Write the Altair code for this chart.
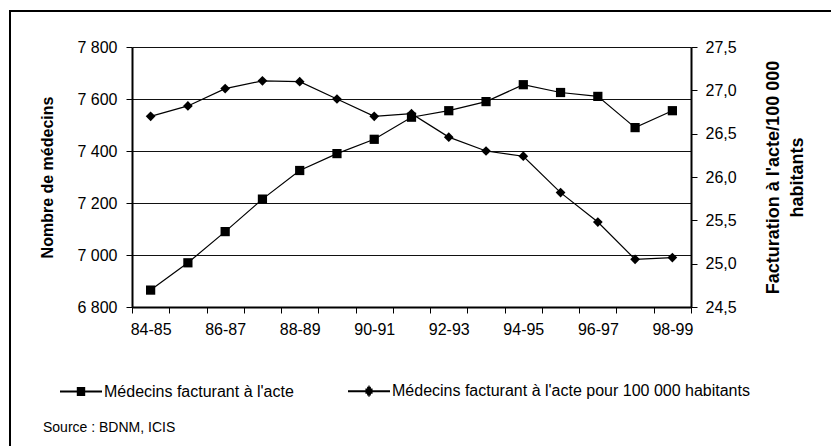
import altair as alt
import pandas as pd

periodes = ["84-85", "85-86", "86-87", "87-88", "88-89", "89-90", "90-91", "91-92",
            "92-93", "93-94", "94-95", "95-96", "96-97", "97-98", "98-99"]
medecins = [6865, 6970, 7090, 7215, 7325, 7390, 7445, 7530, 7555, 7590, 7655, 7625, 7610, 7490, 7555]
par_100k = [26.70, 26.82, 27.02, 27.11, 27.10, 26.90, 26.70, 26.73, 26.46, 26.30, 26.24, 25.82, 25.48, 25.05, 25.07]
series = ["Médecins facturant à l'acte", "Médecins facturant à l'acte pour 100 000 habitants"]
left_ticks = [6800, 7000, 7200, 7400, 7600, 7800]
right_ticks = [24.5, 25.0, 25.5, 26.0, 26.5, 27.0, 27.5]
source_text = "Source : BDNM, ICIS"

df = pd.DataFrame({"periode": periodes, "medecins": medecins, "par_100k": par_100k})
legend_df = pd.DataFrame({"serie": series})
one = pd.DataFrame({"k": [0]})

FONT = "Liberation Sans"
W, H = 559, 260
PL, PT = 132, 47
PR, PB = 831 - PL - W, 446 - PT - H

x_enc = alt.X(
    "periode:N", sort=periodes, title=None,
    scale=alt.Scale(type="band", paddingInner=0, paddingOuter=0),
    axis=alt.Axis(
        tickBand="extent", labelAngle=0, labelOverlap=False,
        labelExpr="parseInt(substring(datum.value,0,2)) % 2 == 0 ? datum.value : ''",
        labelFontSize=16, labelFont=FONT, labelColor="black", labelPadding=8,
        tickSize=6, tickColor="black", tickWidth=1,
        domainColor="black", domainWidth=2, grid=False,
    ),
)

y_left = alt.Y(
    "medecins:Q",
    scale=alt.Scale(domain=[6800, 7800], nice=False, zero=False),
    axis=alt.Axis(
        values=left_ticks,
        labelExpr="replace(format(datum.value, ','), ',', ' ')",
        labelFontSize=16, labelFont=FONT, labelColor="black", labelPadding=9,
        tickSize=6, tickColor="black", tickWidth=1,
        domainColor="black", domainWidth=2,
        grid=True, gridColor="#111111", gridWidth=1,
        title="Nombre de médecins", titleFont=FONT, titleFontSize=16, titleFontWeight="bold",
        titleColor="black", titleAngle=270, titleX=-85, titleY=H / 2,
        titleAlign="center", titleBaseline="middle",
    ),
)

y_right = alt.Y(
    "par_100k:Q",
    scale=alt.Scale(domain=[24.5, 27.5], nice=False, zero=False),
    axis=alt.Axis(
        orient="right", values=right_ticks,
        labelExpr="replace(format(datum.value, '.1f'), '.', ',')",
        labelFontSize=16, labelFont=FONT, labelColor="black", labelPadding=8,
        tickSize=6, tickColor="black", tickWidth=1,
        domainColor="black", domainWidth=2, grid=False,
        title=["Facturation à l'acte/100 000", "habitants"], titleFont=FONT,
        titleFontSize=18, titleFontWeight="bold", titleColor="black",
        titleAngle=270, titleX=82, titleY=H / 2, titleAlign="center",
        titleBaseline="middle", titleLineHeight=24,
    ),
)

base = alt.Chart(df)
left = alt.layer(
    base.mark_line(color="black", strokeWidth=1.2).encode(x=x_enc, y=y_left),
    base.mark_point(shape="square", filled=True, color="black", size=85, opacity=1).encode(x=x_enc, y=y_left),
)
right = alt.layer(
    base.mark_line(color="black", strokeWidth=1.2).encode(x=x_enc, y=y_right),
    base.mark_point(shape="diamond", filled=True, color="black", size=95, opacity=1).encode(x=x_enc, y=y_right),
)

# legend symbols: a horizontal line with a marker drawn from short strokes
sq_path = ("M-1,0H1"
           "M-0.2,-0.17H0.2M-0.2,-0.09H0.2M-0.2,0.09H0.2M-0.2,0.17H0.2")
di_path = ("M-1,0H1"
           "M-0.17,-0.08H0.17M-0.17,0.08H0.17"
           "M-0.09,-0.16H0.09M-0.09,0.16H0.09"
           "M-0.03,-0.22H0.03M-0.03,0.22H0.03")

legend_layer = alt.Chart(legend_df).transform_filter("false").mark_point(
    filled=False, color="black", strokeWidth=2, opacity=1
).encode(
    shape=alt.Shape(
        "serie:N",
        scale=alt.Scale(domain=series, range=[sq_path, di_path]),
        legend=alt.Legend(
            title=None, orient="none", direction="horizontal",
            legendX=59 - PL, legendY=390 - 21 - PT, padding=0,
            symbolSize=1764, symbolStrokeColor="black",
            symbolStrokeWidth=2, symbolOpacity=1,
            labelFont=FONT, labelFontSize=16, labelColor="black", labelLimit=600,
            labelOffset=1, columnPadding=50,
        ),
    )
)

frame = alt.Chart(one).mark_rect(filled=False, stroke="black", strokeWidth=2).encode(
    x=alt.value(10 - PL), x2=alt.value(W + PR + 20),
    y=alt.value(11 - PT), y2=alt.value(H + PB + 20),
)

source = alt.Chart(one).mark_text(
    align="left", baseline="middle", font=FONT, fontSize=14, color="black"
).encode(x=alt.value(43 - PL), y=alt.value(428 - PT), text=alt.value(source_text))

chart = alt.layer(left, right, legend_layer, frame, source).resolve_scale(
    y="independent"
).properties(
    width=W, height=H,
    autosize=alt.AutoSizeParams(type="none"),
    padding={"left": PL, "top": PT, "right": PR, "bottom": PB},
    background="white",
).configure_view(stroke=None)

chart.save("out.html", embed_options={"renderer": "svg", "actions": False})
